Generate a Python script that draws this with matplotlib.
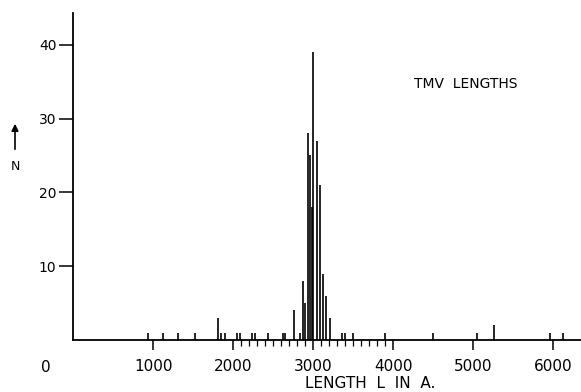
import matplotlib
matplotlib.use("Agg")
import matplotlib.pyplot as plt

# Histogramm der TMV-Laengen
lengths = [935, 1120, 1307, 1530, 1815, 1845, 1902, 2043, 2085, 2233, 2268, 2432,
           2620, 2650, 2760, 2835, 2868, 2897, 2935, 2960, 2980, 3000, 3045, 3090,
           3125, 3155, 3210, 3355, 3395, 3500, 3895, 4498, 5040, 5260, 5964, 6121]
counts = [1, 1, 1, 1, 3, 1, 1, 1, 1, 1, 1, 1,
          1, 1, 4, 1, 8, 5, 28, 25, 18, 39, 27, 21,
          9, 6, 3, 1, 1, 1, 1, 1, 1, 2, 1, 1]

major_ticks = [1000, 2000, 3000, 4000, 5000, 6000]
minor_ticks = [t for t in range(2100, 4000, 100) if t != 3000]
y_ticks = [10, 20, 30, 40]

W, H = 581, 392
fig = plt.figure(figsize=(W / 100, H / 100), dpi=100)
ax = fig.add_axes([73 / W, (H - 340) / H, (W - 73) / W, (340 - 13) / H])

ax.vlines(lengths, 0, counts, color="black", lw=1.2)

ax.set_xlim(0, 6345)
ax.set_ylim(0, 44.3)

for s in ["top", "right"]:
    ax.spines[s].set_visible(False)
for s in ["left", "bottom"]:
    ax.spines[s].set_linewidth(1.3)

ax.set_xticks(major_ticks)
ax.set_xticklabels([str(t) for t in major_ticks])
ax.set_xticks(minor_ticks, minor=True)
ax.set_yticks(y_ticks)
ax.set_yticklabels([str(t) for t in y_ticks])

ax.tick_params(axis="x", which="major", direction="out", length=7.5, width=1.1,
               pad=6, labelsize=11)
ax.tick_params(axis="x", which="minor", direction="out", length=4.5, width=0.9)
ax.tick_params(axis="y", direction="out", length=10, width=1.1, pad=2, labelsize=10)

# Beschriftungen
fig.text(46 / W, 1 - 367 / H, "0", ha="center", va="center", fontsize=11)
fig.text(370 / W, 1 - 383 / H, "LENGTH  L  IN  A.", ha="center", va="center", fontsize=11)
fig.text(466 / W, 1 - 84 / H, "TMV  LENGTHS", ha="center", va="center", fontsize=10)
fig.text(15 / W, 1 - 167 / H, "N", ha="center", va="center", fontsize=9)
fig.patches.append(matplotlib.patches.FancyArrowPatch(
    (15 / W, 1 - 152 / H), (15 / W, 1 - 121 / H), transform=fig.transFigure,
    arrowstyle="-|>", mutation_scale=10, color="black", lw=1.2))

fig.savefig("out.png", dpi=100)
